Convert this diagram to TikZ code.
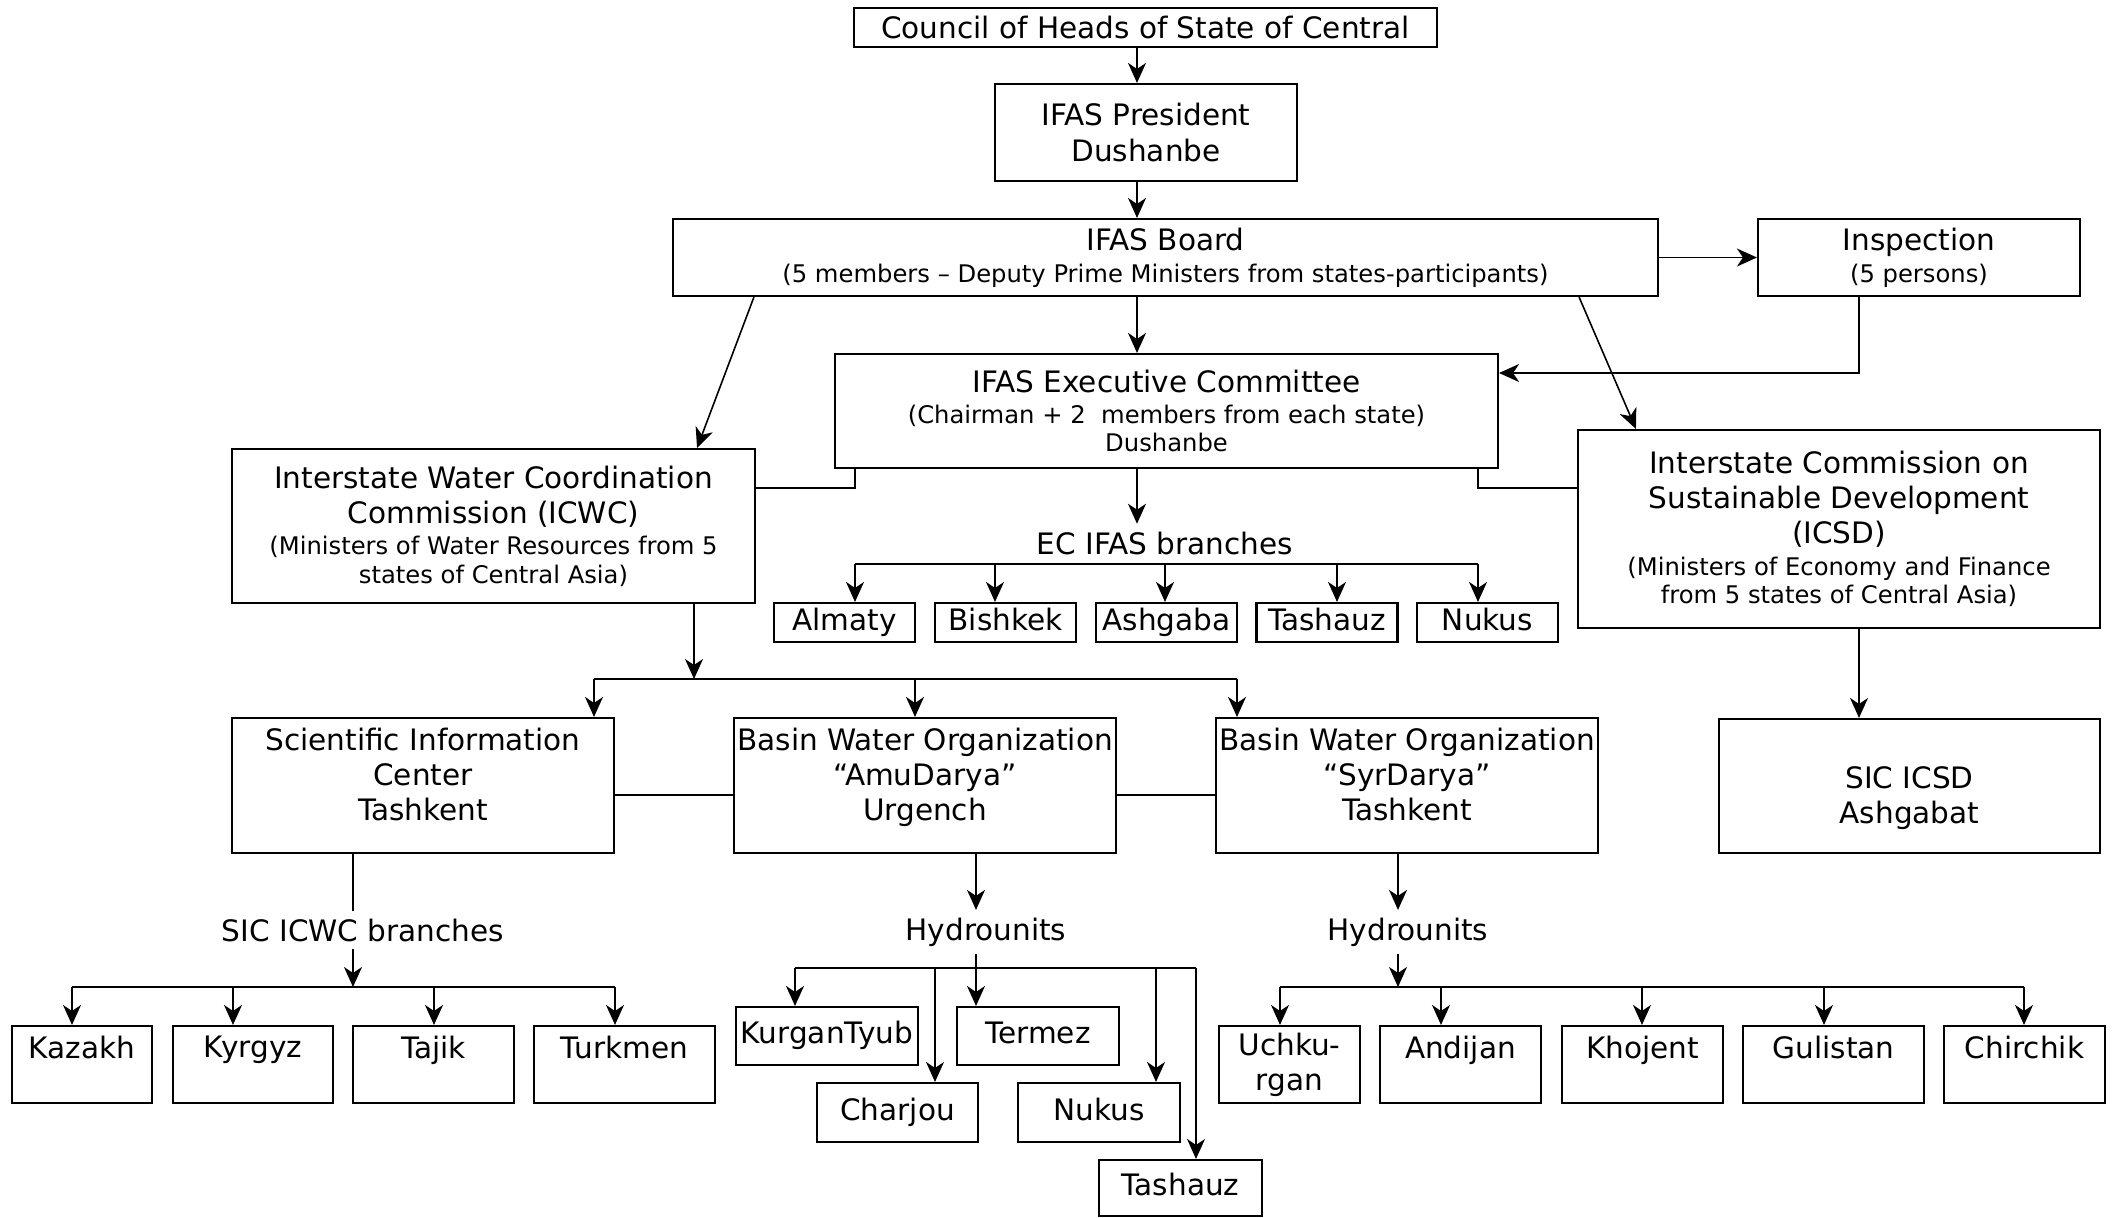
\documentclass[tikz,border=0pt]{standalone}
\usepackage{fontspec}
\setmainfont{DejaVu Sans}
\usetikzlibrary{arrows.meta}

\newcommand{\smalltext}[1]{{\fontsize{6.9}{8}\selectfont #1}}

\tikzset{
  box/.style 2 args={draw, line width=0.6pt, inner sep=0pt, align=center,
    minimum width=#1cm, minimum height=#2cm, font=\fontsize{8.4}{10}\selectfont},
  oneline/.style={text height=6.4pt, text depth=2pt},
  lbl/.style={inner sep=2pt, font=\fontsize{8.4}{10}\selectfont},
  arr/.style={-{Stealth[length=2mm, width=1.8mm, inset=0.6mm]}}
}

\begin{document}
\begin{tikzpicture}[line width=0.45pt]
\useasboundingbox (0,0) rectangle (21.12,-12.18);

% Top of the structure
\node[box={5.83}{0.39}, oneline, text depth=0pt] (council) at (11.455,-0.275) {Council of Heads of State of Central};
\node[box={3.02}{0.97}] (pres) at (11.46,-1.325) {IFAS President\\Dushanbe};
\node[box={9.85}{0.77}] (board) at (11.655,-2.575) {IFAS Board\\[-1pt]\smalltext{(5 members – Deputy Prime Ministers from states-participants)}};
\node[box={3.22}{0.77}] (insp) at (19.19,-2.575) {Inspection\\[-1pt]\smalltext{(5 persons)}};
\node[box={6.63}{1.14}] (exec) at (11.665,-4.11) {IFAS Executive Committee\\[-1pt]\smalltext{(Chairman + 2 \ members from each state)}\\[-2pt]\smalltext{Dushanbe}};

% Commissions
\node[box={5.23}{1.54}] (icwc) at (4.935,-5.26) {Interstate Water Coordination\\Commission (ICWC)\\[-1pt]\smalltext{(Ministers of Water Resources from 5}\\[-2pt]\smalltext{states of Central Asia)}};
\node[box={5.22}{1.98}] (icsd) at (18.39,-5.29) {Interstate Commission on\\Sustainable Development\\(ICSD)\\[-1pt]\smalltext{(Ministers of Economy and Finance}\\[-2pt]\smalltext{from 5 states of Central Asia)}};

% EC IFAS branches
\node[lbl] (ecbr) at (11.65,-5.43) {EC IFAS branches};
\foreach \n/\x/\t in {almaty/8.445/Almaty, bishkek/10.055/Bishkek, ashgaba/11.665/Ashgaba, tashauzE/13.27/Tashauz, nukusE/14.875/Nukus}
  \node[box={1.41}{0.39}, oneline] (\n) at (\x,-6.225) {\t};

% Second level
\node[box={3.82}{1.35}] (sic) at (4.23,-7.855) {Scientific Information\\Center\\Tashkent\\[-3.8pt]~};
\node[box={3.82}{1.35}] (amu) at (9.25,-7.855) {Basin Water Organization\\“AmuDarya”\\Urgench\\[-3.8pt]~};
\node[box={3.82}{1.35}] (syr) at (14.07,-7.855) {Basin Water Organization\\“SyrDarya”\\Tashkent\\[-3.8pt]~};
\node[box={3.81}{1.34}] (sicicsd) at (19.095,-7.86) {\rule{0pt}{13pt}SIC ICSD\\Ashgabat};

\node[lbl] (sicbr) at (3.63,-9.30) {SIC ICWC branches};
\node[lbl] (hydA) at (9.86,-9.32) {Hydrounits};
\node[lbl] (hydS) at (14.08,-9.32) {Hydrounits};

% Bottom boxes
\foreach \n/\x/\w/\t in {kazakh/0.82/1.40/Kazakh, kyrgyz/2.53/1.60/Kyrgyz, tajik/4.335/1.61/Tajik, turkmen/6.245/1.81/Turkmen}
  \node[box={\w}{0.77}] (\n) at (\x,-10.645) {\t\\~};

\node[box={1.82}{0.58}, oneline] (kurgan) at (8.27,-10.36) {KurganTyub};
\node[box={1.62}{0.58}, oneline] (termez) at (10.38,-10.36) {Termez};
\node[box={1.61}{0.59}, oneline] (charjou) at (8.975,-11.125) {Charjou};
\node[box={1.62}{0.59}, oneline] (nukusA) at (10.99,-11.125) {Nukus};
\node[box={1.63}{0.56}, oneline] (tashauzA) at (11.805,-11.88) {Tashauz};

\node[box={1.41}{0.77}] (uchk) at (12.895,-10.645) {Uchku-\\rgan};
\foreach \n/\x/\w/\t in {andijan/14.605/1.61/Andijan, khojent/16.425/1.61/Khojent, gulistan/18.335/1.81/Gulistan, chirchik/20.245/1.61/Chirchik}
  \node[box={\w}{0.77}] (\n) at (\x,-10.645) {\t\\~};

% Connectors at the top
\coordinate (sp) at (11.37,0);
\draw[arr] (sp |- council.south) -- (sp |- pres.north);
\draw[arr] (sp |- pres.south) -- (sp |- board.north);
\draw[arr] (sp |- board.south) -- (sp |- exec.north);
\draw[arr] (sp |- exec.south) -- (sp |- ecbr.north);
\draw[arr] (board.east) -- (insp.west);
\draw[arr] ([xshift=0.82cm]board.south west) -- ([xshift=-0.59cm]icwc.north east);
\draw[arr] ([xshift=-0.8cm]board.south east) -- ([xshift=0.59cm]icsd.north west);

\coordinate (ic) at (18.59,-3.73);
\draw[arr] (ic |- insp.south) -- (ic) -- (ic -| exec.east);
\draw[arr] (ic |- icsd.south) -- (ic |- sicicsd.north);

\coordinate (el) at (8.55,-4.88);
\coordinate (er) at (14.78,-4.88);
\draw (el -| icwc.east) -- (el) -- (el |- exec.south);
\draw (er -| icsd.west) -- (er) -- (er |- exec.south);

% EC branches
\draw (8.55,-5.64) -- (14.78,-5.64);
\foreach \n/\x in {almaty/8.55, bishkek/9.95, ashgaba/11.65, tashauzE/13.37, nukusE/14.78}
  \draw[arr] (\x,-5.64) coordinate (t) -- (t |- \n.north);

% Below ICWC
\coordinate (lb) at (6.94,-6.79);
\draw[arr] (lb |- icwc.south) -- (lb);
\draw (5.94,-6.79) -- (12.37,-6.79);
\foreach \n/\x in {sic/5.94, amu/9.15, syr/12.37}
  \draw[arr] (\x,-6.79) coordinate (t) -- (t |- \n.north);
\draw ([yshift=-0.095cm]sic.east) -- ([yshift=-0.095cm]amu.west);
\draw ([yshift=-0.095cm]amu.east) -- ([yshift=-0.095cm]syr.west);

% SIC ICWC branches
\coordinate (sb) at (3.53,-9.87);
\draw (sb |- sic.south) -- (sb |- sicbr.north);
\draw[arr] (sb |- sicbr.south) -- (sb);
\draw (0.72,-9.87) -- (6.15,-9.87);
\foreach \n/\x in {kazakh/0.72, kyrgyz/2.33, tajik/4.34, turkmen/6.15}
  \draw[arr] (\x,-9.87) coordinate (t) -- (t |- \n.north);

% Hydrounits AmuDarya
\coordinate (ab) at (9.76,-9.68);
\draw[arr] (ab |- amu.south) -- (ab |- hydA.north);
\draw[arr] (ab |- hydA.south) -- (ab |- termez.north);
\draw (7.95,-9.68) -- (11.96,-9.68);
\foreach \n/\x in {kurgan/7.95, charjou/9.35, nukusA/11.56, tashauzA/11.96}
  \draw[arr] (\x,-9.68) coordinate (t) -- (t |- \n.north);

% Hydrounits SyrDarya
\coordinate (yb) at (13.98,-9.87);
\draw[arr] (yb |- syr.south) -- (yb |- hydS.north);
\draw[arr] (yb |- hydS.south) -- (yb);
\draw (12.80,-9.87) -- (20.24,-9.87);
\foreach \n/\x in {uchk/12.80, andijan/14.41, khojent/16.42, gulistan/18.24, chirchik/20.24}
  \draw[arr] (\x,-9.87) coordinate (t) -- (t |- \n.north);

\end{tikzpicture}
\end{document}
